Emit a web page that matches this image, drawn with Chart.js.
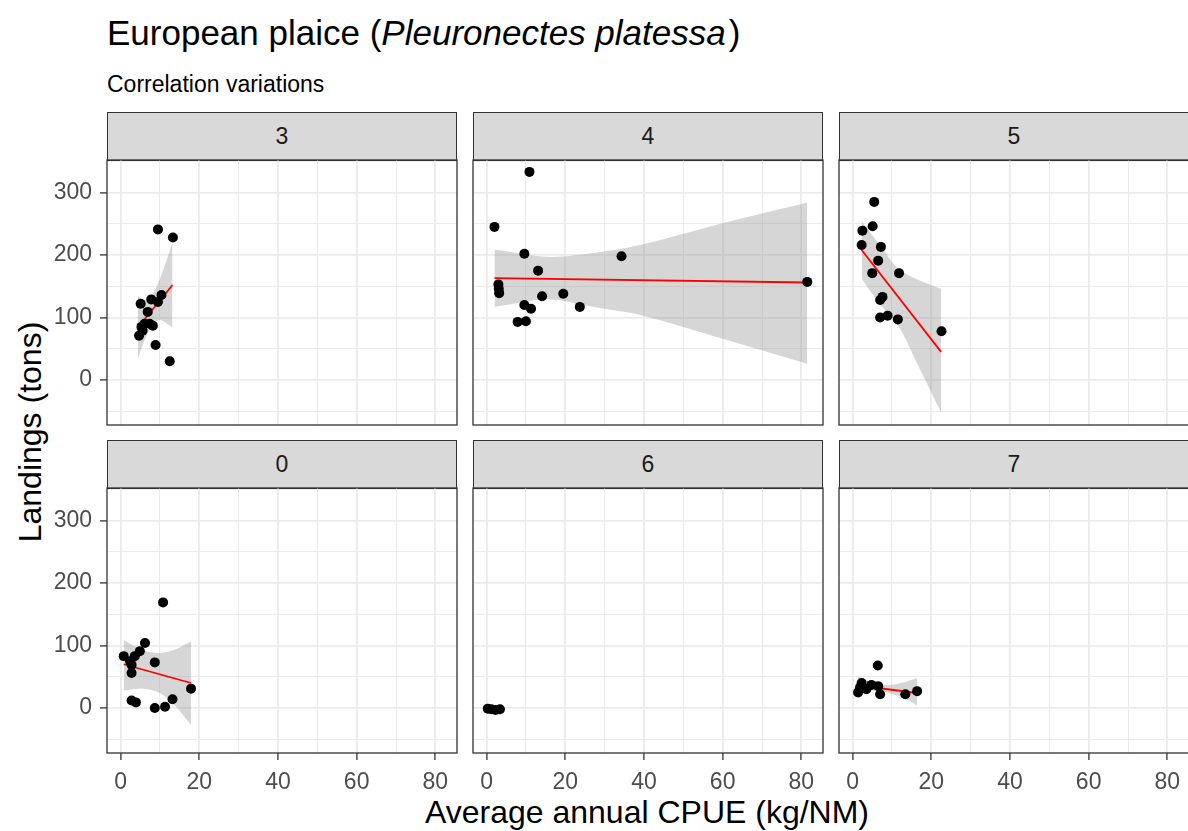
<!DOCTYPE html>
<html>
<head>
<meta charset="utf-8">
<title>European plaice</title>
<script src="https://cdn.jsdelivr.net/npm/chart.js@4.4.1/dist/chart.umd.min.js"></script>
<style>
  body { margin: 0; width: 1188px; height: 831px; background: #fff; overflow: hidden; position: relative;
         font-family: "Liberation Sans", Arial, sans-serif; }
  #title { position: absolute; left: 107px; top: 15px; font-size: 35px; line-height: 1; color: #000; white-space: nowrap; }
  #subtitle { position: absolute; left: 107px; top: 73px; font-size: 23px; line-height: 1; color: #000; white-space: nowrap; }
  .strip { position: absolute; box-sizing: border-box; background: #D9D9D9; border: 1.3px solid #333;
           text-align: center; font-size: 23px; color: #1A1A1A; }
  .panel { position: absolute; }
  #xtitle { position: absolute; left: 647px; top: 796px; transform: translateX(-50%); font-size: 32px; line-height: 1; white-space: nowrap; }
  #ytitle { position: absolute; left: 30px; top: 432px; transform: translate(-50%, -50%) rotate(-90deg); font-size: 32px; line-height: 1; white-space: nowrap; }
</style>
</head>
<body>
<div id="title">European plaice (<i>Pleuronectes platessa</i>&#8202;)</div>
<div id="subtitle">Correlation variations</div>
<div id="xtitle">Average annual CPUE (kg/NM)</div>
<div id="ytitle">Landings (tons)</div>
<script>
// facet order as drawn: top row then bottom row
const facetLabels = ['3', '4', '5', '0', '6', '7'];
const xTicks = [0, 20, 40, 60, 80];
const yTicks = [0, 100, 200, 300];

// points: CPUE (kg/NM) and landings (tons)
const cpue3 = [9.5, 13.3, 5.1, 7.8, 10.4, 9.5, 6.9, 4.7, 5.3, 6.1, 7.4, 8.2, 5.6, 8.9, 12.5];
const land3 = [241, 228, 122, 129, 136, 125, 109, 71, 85, 90, 90, 87, 79, 56, 30];
const cpue4 = [10.9, 2.0, 9.6, 34.3, 13.1, 3.0, 3.1, 3.2, 14.1, 19.5, 9.6, 11.3, 23.7, 7.9, 10.0, 81.5];
const land4 = [333, 245, 202, 198, 175, 153, 146, 139, 134, 138, 120, 114, 117, 93, 94, 157];
const cpue5 = [5.5, 2.5, 5.1, 2.3, 7.2, 6.5, 5.0, 11.8, 7.6, 7.0, 7.0, 8.9, 11.5, 22.6];
const land5 = [285, 239, 246, 216, 213, 191, 171, 171, 133, 128, 100, 103, 97, 78];
const cpue0 = [0.8, 2.4, 2.8, 3.6, 4.9, 6.2, 2.8, 8.7, 10.8, 17.9, 2.8, 3.9, 8.7, 11.3, 13.2];
const land0 = [83, 75, 69, 83, 91, 104, 56, 73, 169, 31, 12, 9, 0, 2, 14];
const cpue6 = [0.3, 1.2, 2.3, 3.4];
const land6 = [-1, -2, -3, -2];
const cpue7 = [1.4, 2.3, 3.5, 4.8, 6.5, 6.4, 7.0, 13.4, 16.4, 1.9];
const land7 = [25, 40, 30, 37, 35, 68, 22, 22, 27, 33];

// red fitted lines (ends) and grey bands (upper / lower edge) as read
const fitX3 = [4.4, 13.2], fitY3 = [84, 152];
const bandX3 = [4.4, 6, 8, 10, 13.2], bandHi3 = [134, 128, 136, 162, 220], bandLo3 = [34, 62, 88, 96, 84];
const fitX4 = [2.0, 81.5], fitY4 = [163, 156];
const bandX4 = [2, 16, 28, 39, 60, 81.5], bandHi4 = [209, 197, 204, 216, 251, 284], bandLo4 = [117, 129, 116, 104, 66, 26];
const fitX5 = [2.3, 22.5], fitY5 = [208, 45];
const bandX5 = [2.3, 7, 11.65, 16.75, 22.5], bandHi5 = [254, 215, 178, 160, 146], bandLo5 = [162, 121, 87, 22, -52];
const fitX0 = [0.8, 17.9], fitY0 = [70, 40];
const bandX0 = [0.8, 5.8, 10, 14, 17.9], bandHi0 = [109, 92, 88, 94, 107], bandLo0 = [28, 31, 24, 3, -27];
const fitX7 = [1.4, 16.4], fitY7 = [36, 24];
const bandX7 = [1.4, 5, 9, 13, 16.4], bandHi7 = [51, 41, 37, 41, 48], bandLo7 = [20, 28, 24, 16, 4];

const panels = [
  { x: cpue3, y: land3, fx: fitX3, fy: fitY3, bx: bandX3, bh: bandHi3, bl: bandLo3 },
  { x: cpue4, y: land4, fx: fitX4, fy: fitY4, bx: bandX4, bh: bandHi4, bl: bandLo4 },
  { x: cpue5, y: land5, fx: fitX5, fy: fitY5, bx: bandX5, bh: bandHi5, bl: bandLo5 },
  { x: cpue0, y: land0, fx: fitX0, fy: fitY0, bx: bandX0, bh: bandHi0, bl: bandLo0 },
  { x: cpue6, y: land6 },
  { x: cpue7, y: land7, fx: fitX7, fy: fitY7, bx: bandX7, bh: bandHi7, bl: bandLo7 }
];

const colLeft = [107, 473, 839];
const rowTop = [160, 488];
const plotW = 350, plotH = 265, stripH = 48;
const FONT = '"Liberation Sans", Arial, sans-serif';

function pts(xs, ys) {
  return xs.map((v, i) => ({ x: v, y: ys[i] }));
}

// keep the plot area exactly where it belongs: no label overflow padding
function noPad(s) {
  s.paddingTop = 0; s.paddingBottom = 0; s.paddingLeft = 0; s.paddingRight = 0;
}

const panelBorder = {
  id: 'panelBorder',
  afterDraw(chart) {
    const a = chart.chartArea, c = chart.ctx;
    c.save();
    c.strokeStyle = '#333333';
    c.lineWidth = 1.3;
    c.strokeRect(a.left, a.top, a.right - a.left, a.bottom - a.top);
    c.restore();
  }
};

panels.forEach((p, i) => {
  const col = i % 3, row = Math.floor(i / 3);
  const leftCol = col === 0, bottomRow = row === 1;
  const leftExtra = leftCol ? 57 : 2;
  const bottomExtra = bottomRow ? 45 : 2;

  // strip
  const strip = document.createElement('div');
  strip.className = 'strip';
  strip.style.left = colLeft[col] + 'px';
  strip.style.top = (rowTop[row] - stripH) + 'px';
  strip.style.width = plotW + 'px';
  strip.style.height = (stripH + 1) + 'px';
  strip.style.lineHeight = (stripH - 2) + 'px';
  strip.textContent = facetLabels[i];
  document.body.appendChild(strip);

  const w = plotW + leftExtra + 2, h = plotH + bottomExtra + 2;
  const cv = document.createElement('canvas');
  cv.className = 'panel';
  cv.width = w; cv.height = h;
  cv.style.left = (colLeft[col] - leftExtra) + 'px';
  cv.style.top = (rowTop[row] - 2) + 'px';
  cv.style.width = w + 'px'; cv.style.height = h + 'px';
  document.body.appendChild(cv);

  const datasets = [];
  if (p.bx) {
    datasets.push({ type: 'line', data: pts(p.bx, p.bh), fill: '+1', backgroundColor: 'rgba(153,153,153,0.4)',
                    borderWidth: 0, borderColor: 'rgba(0,0,0,0)', pointRadius: 0, tension: 0.3, order: 3 });
    datasets.push({ type: 'line', data: pts(p.bx, p.bl), fill: false, borderWidth: 0, borderColor: 'rgba(0,0,0,0)',
                    pointRadius: 0, tension: 0.3, order: 3 });
    datasets.push({ type: 'line', data: pts(p.fx, p.fy), fill: false, borderColor: '#FF0000', borderWidth: 1.8,
                    pointRadius: 0, order: 1 });
  }
  datasets.push({ data: pts(p.x, p.y), backgroundColor: '#000', borderWidth: 0, pointRadius: 5, order: 0 });

  new Chart(cv, {
    type: 'scatter',
    data: { datasets: datasets },
    plugins: [panelBorder],
    options: {
      responsive: false,
      animation: false,
      events: [],
      layout: { autoPadding: false, padding: { top: 2, right: 2, left: 0, bottom: 0 } },
      plugins: { legend: { display: false }, tooltip: { enabled: false } },
      scales: {
        x: {
          type: 'linear', min: -3.45, max: 85.5,
          border: { display: false },
          afterFit: s => { s.height = bottomExtra; noPad(s); },
          grid: {
            color: '#EBEBEB',
            lineWidth: c => (c.tick && xTicks.includes(c.tick.value)) ? 1.8 : 1,
            drawTicks: bottomRow, tickLength: 7, tickWidth: 1.3,
            tickColor: c => (c.tick && xTicks.includes(c.tick.value)) ? '#333333' : 'rgba(0,0,0,0)'
          },
          ticks: {
            display: bottomRow, stepSize: 10, includeBounds: false, autoSkip: false, maxRotation: 0,
            color: '#4D4D4D', font: { family: FONT, size: 23 }, padding: 9,
            callback: v => xTicks.includes(v) ? String(v) : ''
          }
        },
        y: {
          type: 'linear', min: -72, max: 352,
          border: { display: false },
          afterFit: s => { s.width = leftExtra; noPad(s); },
          grid: {
            color: '#EBEBEB',
            lineWidth: c => (c.tick && yTicks.includes(c.tick.value)) ? 1.8 : 1,
            drawTicks: leftCol, tickLength: 7, tickWidth: 1.3,
            tickColor: c => (c.tick && yTicks.includes(c.tick.value)) ? '#333333' : 'rgba(0,0,0,0)'
          },
          ticks: {
            display: leftCol, stepSize: 50, includeBounds: false, autoSkip: false,
            color: '#4D4D4D', font: { family: FONT, size: 23 }, padding: 8,
            callback: v => yTicks.includes(v) ? String(v) : ''
          }
        }
      }
    }
  });
});
</script>
</body>
</html>
